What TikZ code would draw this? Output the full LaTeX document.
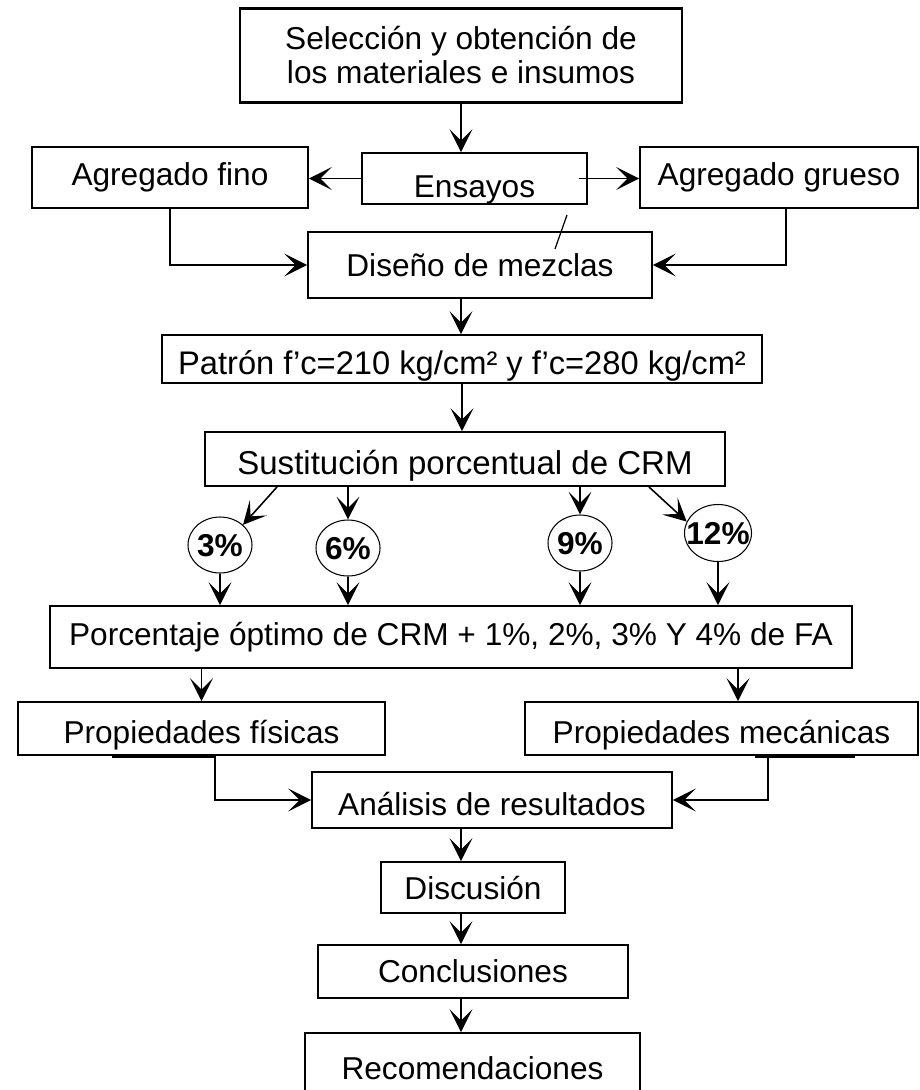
\documentclass[tikz,border=0pt]{standalone}
\usepackage{fontspec}
\setmainfont{Liberation Sans}
\usetikzlibrary{arrows.meta,shapes.geometric}
\newcommand{\pcnt}[1]{\makebox[0pt]{#1}}
\tikzset{
  box/.style={draw,line width=1.1pt,inner sep=0pt,font=\fontsize{18}{19.5}\selectfont},
  low/.style={text height=#1,text depth=0pt},
  wh/.style 2 args={minimum width=#1*0.02cm,minimum height=#2*0.02cm},
  pct/.style={draw,ellipse,line width=0.6pt,inner sep=0pt,wh={64}{56},
    text height=13pt,text depth=0pt,font=\bfseries\fontsize{18}{18}\selectfont},
  arr/.style={-{Stealth[length=13pt,width=13pt,inset=6.5pt]},line width=0.9pt}
}
\begin{document}
\begin{tikzpicture}[x=0.02cm,y=-0.02cm]
  \useasboundingbox (0,0) rectangle (920,1090);
  % boxes
  \node[box,line width=1.7pt,wh={442}{94},align=center] (sel) at (461,55)
  {Selección y obtención de\\los materiales e insumos};
  \node[box,low=22pt,wh={225}{51}] (ens) at (474.5,178.5) {Ensayos};
  \node[box,wh={276}{61}] (fino) at (170,177.5) {Agregado fino};
  \node[box,wh={278}{61}] (grueso) at (779,177.5) {Agregado grueso};
  \node[box,wh={344}{66}] (dis) at (480,265) {Diseño de mezclas};
  \node[box,low=18pt,wh={600}{48},font=\fontsize{18.6}{20}\selectfont] (pat) at (462,359)
  {Patrón f’c=210 kg/cm² y f’c=280 kg/cm²};
  \node[box,low=18pt,wh={520}{54},font=\fontsize{18.8}{20}\selectfont] (sus) at (465,459)
  {Sustitución porcentual de CRM};
  \node[box,wh={802}{62}] (opt) at (451,637)
  {Porcentaje óptimo de CRM + 1\%, 2\%, 3\% Y 4\% de FA};
  \node[box,low=17.5pt,wh={367}{53}] (fis) at (201.5,728.5) {Propiedades físicas};
  \node[box,low=17.5pt,wh={393}{53}] (mec) at (721.5,728.5) {Propiedades mecánicas};
  \node[box,low=17.5pt,wh={360}{56}] (ana) at (492,800) {Análisis de resultados};
  \node[box,wh={184}{51}] (disc) at (473,887.5) {Discusión};
  \node[box,wh={310}{53}] (con) at (473,971.5) {Conclusiones};
  \node[box,wh={335}{70}] (rec) at (472.5,1068) {Recomendaciones};
  % percentages
  \node[pct] (p3) at (220,545) {\pcnt{3\%}};
  \node[pct] (p6) at (348,548) {\pcnt{6\%}};
  \node[pct] (p9) at (580,543) {\pcnt{9\%}};
  \node[pct,wh={67}{57}] (p12) at (718,533) {\pcnt{12\%}};
  % arrows, top part
  \draw[arr] (sel.south) -- (sel.south |- ens.north);
  \draw[arr] (ens.west) -- (ens.west -| fino.east);
  \draw[arr] ([xshift=-0.18cm]ens.east) -- (ens.east -| grueso.west);
  \draw[line width=0.7pt] (567,215) -- (555,249);
  \draw[arr] (fino.south) |- (dis.west);
  \coordinate (gout) at ([xshift=0.14cm]grueso.south);
  \draw[arr] (gout) |- (dis.east);
  \draw[arr] (dis.south -| sel.south) -- (pat.north -| sel.south);
  \draw[arr] (pat.south) -- (pat.south |- sus.north);
  % arrows to and from the percentages
  \draw[arr] ([xshift=1.46cm]sus.south west) -- (p3.north east);
  \draw[arr] (p6.north |- sus.south) -- (p6.north);
  \draw[arr] (p9.north |- sus.south) -- (p9.north);
  \draw[arr] ([xshift=-1.54cm]sus.south east) -- (p12.160);
  \foreach \p in {p3,p6,p9,p12}
    \draw[arr] (\p.south) -- (\p.south |- opt.north);
  % properties
  \coordinate (mecin) at ([xshift=0.33cm]mec.north);
  \draw[arr] (fis.north |- opt.south) -- (fis.north);
  \draw[arr] (mecin |- opt.south) -- (mecin);
  \coordinate (fisout) at ([xshift=0.27cm]fis.south);
  \coordinate (mecout) at ([xshift=0.93cm]mec.south);
  \draw[line width=2.2pt] ([xshift=-1.79cm]fis.south) -- (fisout);
  \draw[line width=2.2pt] ([xshift=0.67cm]mec.south) -- ([xshift=2.67cm]mec.south);
  \draw[arr] (fisout) |- (ana.west);
  \draw[arr] (mecout) |- (ana.east);
  % closing chain
  \draw[arr] (ana.south -| sel.south) -- (disc.north -| sel.south);
  \draw[arr] (disc.south -| sel.south) -- (con.north -| sel.south);
  \draw[arr] (con.south -| sel.south) -- (rec.north -| sel.south);
\end{tikzpicture}
\end{document}
